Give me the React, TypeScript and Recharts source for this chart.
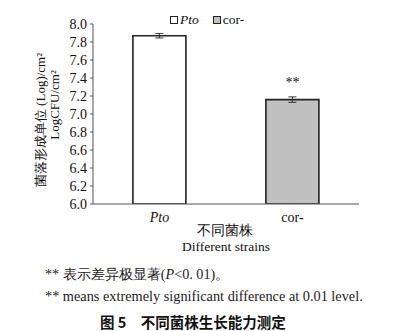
import { BarChart, Bar, XAxis, YAxis, Cell, ErrorBar, LabelList, Legend } from 'recharts';

// values
const strains = ['Pto', 'cor-'];
const colonyLog = [7.87, 7.16];
const errors = [0.025, 0.03];
const sigMarks = ['', '**'];
const barColors = ['#ffffff', '#c0c0c0'];
const yTicks = [6.0, 6.2, 6.4, 6.6, 6.8, 7.0, 7.2, 7.4, 7.6, 7.8, 8.0];
const boundaryTicks = [0, 1, 2];

const data = strains.map((name, i) => ({
  name,
  value: colonyLog[i],
  err: errors[i],
  sig: sigMarks[i],
}));

const serif = '"Liberation Serif", "Times New Roman", serif';

const renderLegend = () => (
  <div style={{ display: 'flex', gap: 14, fontFamily: serif, fontSize: 13.5, color: '#111', lineHeight: '14px' }}>
    {strains.map((s, i) => (
      <span key={s} style={{ display: 'flex', alignItems: 'center' }}>
        <span
          style={{
            display: 'inline-block',
            width: 6,
            height: 6,
            border: '1px solid #222',
            background: barColors[i],
            marginRight: 2,
          }}
        />
        <span style={{ fontStyle: i === 0 ? 'italic' : 'normal' }}>{s}</span>
      </span>
    ))}
  </div>
);

// eslint-disable-next-line @typescript-eslint/no-explicit-any
const StrainTick = (props: any) => {
  const { x, y, payload } = props;
  return (
    <text
      x={x}
      y={y}
      dy={10}
      textAnchor="middle"
      fontFamily={serif}
      fontSize={14}
      fill="#111"
      fontStyle={payload.value === 'Pto' ? 'italic' : 'normal'}
    >
      {payload.value}
    </text>
  );
};

const YTitle = () => (
  <g fontFamily={serif} fontSize={13} fill="#111">
    <text transform="translate(45,120) rotate(-90)" textAnchor="middle">
      菌落形成单位 (Log)/cm²
    </text>
    <text transform="translate(59,105) rotate(-90)" textAnchor="middle">
      LogCFU/cm²
    </text>
  </g>
);

const XTitle = () => (
  <g fontFamily={serif} fontSize={13.5} fill="#111">
    <text x={225} y={235} textAnchor="middle">
      不同菌株
    </text>
    <text x={226} y={251} textAnchor="middle">
      Different strains
    </text>
  </g>
);

export default function App() {
  return (
    <div style={{ position: 'absolute', left: 0, top: 0, width: 420, height: 331, background: '#fff' }}>
      <BarChart
        width={420}
        height={255}
        data={data}
        margin={{ top: 24, right: 61, bottom: 0, left: 0 }}
        barCategoryGap="30%"
      >
        <XAxis
          xAxisId="bounds"
          type="number"
          domain={[0, 2]}
          ticks={boundaryTicks}
          height={0}
          axisLine={false}
          tickLine={{ stroke: '#555' }}
          tickSize={4}
          tickFormatter={() => ''}
        />
        <XAxis
          xAxisId="strain"
          dataKey="name"
          height={51}
          axisLine={{ stroke: '#555' }}
          tickLine={false}
          tick={<StrainTick />}
          label={{ content: <XTitle /> }}
        />
        <YAxis
          width={93}
          domain={[6, 8]}
          ticks={yTicks}
          interval={0}
          allowDataOverflow
          axisLine={{ stroke: '#555' }}
          tickLine={{ stroke: '#555' }}
          tickSize={3}
          tickMargin={3}
          tickFormatter={(v: number) => v.toFixed(1)}
          tick={{ fontFamily: serif, fontSize: 14, fill: '#111' }}
          label={{ content: <YTitle /> }}
        />
        <Legend
          layout="horizontal"
          verticalAlign="middle"
          align="center"
          content={renderLegend}
          wrapperStyle={{ top: 13, left: 170, width: 120 }}
        />
        <Bar
          xAxisId="strain"
          dataKey="value"
          stroke="#222"
          strokeWidth={1.6}
          isAnimationActive={false}
        >
          {data.map((d, i) => (
            <Cell key={d.name} fill={barColors[i]} />
          ))}
          <ErrorBar dataKey="err" width={4} stroke="#333" strokeWidth={1} direction="y" />
          <LabelList dataKey="sig" position="top" offset={13} fontFamily={serif} fontSize={14} fill="#111" />
        </Bar>
      </BarChart>
      <div style={{ position: 'absolute', left: 45, top: 265, fontFamily: serif, fontSize: 14.2, color: '#222', whiteSpace: 'nowrap' }}>
        ** 表示差异极显著(<i>P</i>&lt;0. 01)。
      </div>
      <div style={{ position: 'absolute', left: 45, top: 288, fontFamily: serif, fontSize: 14.3, color: '#222', whiteSpace: 'nowrap' }}>
        ** means extremely significant difference at 0.01 level.
      </div>
      <div style={{ position: 'absolute', left: 100, top: 311, fontFamily: '"Noto Sans CJK SC", sans-serif', fontSize: 14.5, fontWeight: 700, color: '#111', whiteSpace: 'nowrap' }}>
        图 5　不同菌株生长能力测定
      </div>
    </div>
  );
}
